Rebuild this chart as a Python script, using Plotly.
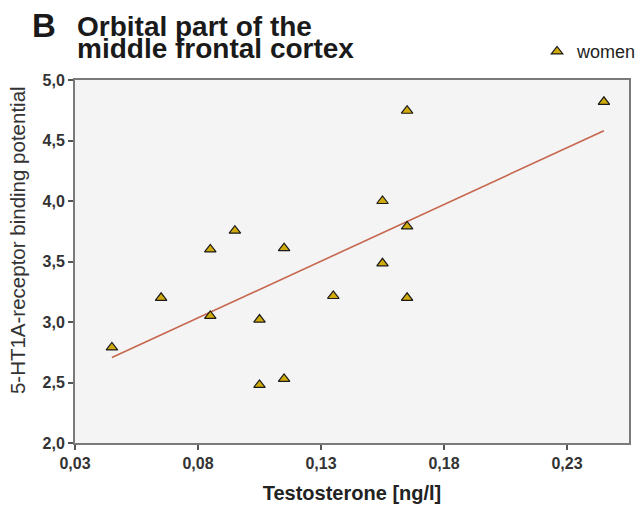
import numpy as np
import plotly.graph_objects as go

# Data
testosterone = [0.045, 0.065, 0.085, 0.085, 0.095, 0.105, 0.105, 0.115, 0.115,
                0.135, 0.155, 0.155, 0.165, 0.165, 0.165, 0.245]
binding = [2.79, 3.20, 3.05, 3.60, 3.755, 3.02, 2.48, 3.61, 2.53,
           3.215, 4.00, 3.485, 4.746, 3.79, 3.20, 4.82]
x_ticks = [0.03, 0.08, 0.13, 0.18, 0.23]
y_ticks = [2.0, 2.5, 3.0, 3.5, 4.0, 4.5, 5.0]
series_name = "women"

# Linear regression line from the data
slope, intercept = np.polyfit(testosterone, binding, 1)
fit_x = [min(testosterone), max(testosterone)]
fit_y = [slope * v + intercept for v in fit_x]

FONT = "Liberation Sans, Arial, sans-serif"

fig = go.Figure()
fig.add_trace(go.Scatter(
    x=fit_x, y=fit_y, mode="lines",
    line=dict(color="#c6674d", width=1.6),
    showlegend=False, hoverinfo="skip",
))
fig.add_trace(go.Scatter(
    x=testosterone, y=binding, mode="markers", name=series_name,
    marker=dict(symbol="triangle-up", size=10, color="#d0a90a",
                line=dict(color="#1a1a1a", width=1.2)),
))

axis_common = dict(
    showline=True, linecolor="#7a7a7a", linewidth=2, mirror=True,
    ticks="outside", ticklen=5, tickcolor="#555", tickwidth=1.5,
    showgrid=False, zeroline=False,
    tickfont=dict(family=FONT, size=16, color="#333333", weight="bold"),
)

fig.update_layout(
    width=644, height=506,
    margin=dict(l=75, r=15, t=80, b=63, autoexpand=False),
    paper_bgcolor="white", plot_bgcolor="#f4f4f4",
    separators=",.",
    font=dict(family=FONT, color="#222"),
    xaxis=dict(range=[0.03, 0.2552], tickvals=x_ticks, tickformat=".2f",
               title=dict(text="Testosterone [ng/l]", standoff=15,
                          font=dict(family=FONT, size=20, color="#222", weight="bold")),
               **axis_common),
    yaxis=dict(range=[2, 5], tickvals=y_ticks, tickformat=".1f", **axis_common),
    legend=dict(x=0.834, y=1.078, xanchor="left", yanchor="middle",
                font=dict(family=FONT, size=18, color="#222"),
                bgcolor="rgba(0,0,0,0)", itemwidth=30),
    annotations=[
        dict(text="5-HT1A-receptor binding potential", textangle=-90,
             xref="paper", yref="paper", x=0, y=0.559, xanchor="center",
             yanchor="middle", xshift=-58, showarrow=False,
             font=dict(family=FONT, size=20.5, color="#333")),
        dict(text="<b>B</b>", xref="paper", yref="paper", x=-0.082, y=1.0,
             xanchor="left", yanchor="bottom", showarrow=False, yshift=34,
             font=dict(family=FONT, size=33, color="#1a1a1a")),
        dict(text="<b>Orbital part of the</b>", xref="paper", yref="paper",
             x=0.0, y=1.0, xanchor="left", yanchor="bottom", showarrow=False,
             yshift=36, font=dict(family=FONT, size=28, color="#1a1a1a")),
        dict(text="<b>middle frontal cortex</b>", xref="paper", yref="paper",
             x=0.0, y=1.0, xanchor="left", yanchor="bottom", showarrow=False,
             yshift=14, font=dict(family=FONT, size=28, color="#1a1a1a")),
    ],
)

fig.write_html("out.html")
